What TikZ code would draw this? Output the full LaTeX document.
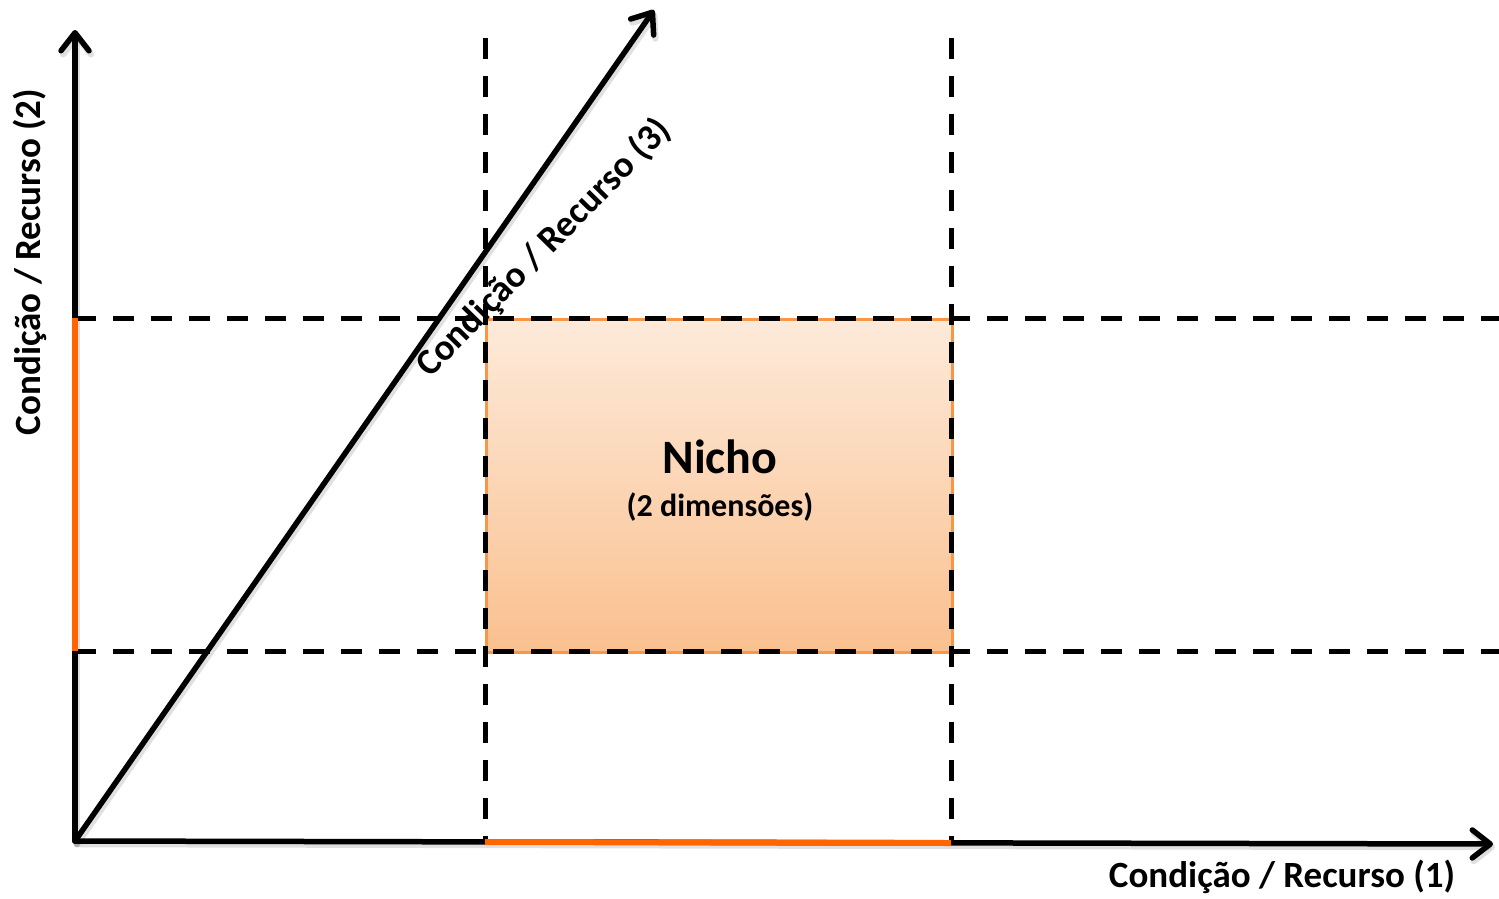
\documentclass[tikz,border=0pt]{standalone}
\usepackage{fontspec}
\setmainfont{Carlito}
\usetikzlibrary{arrows.meta}
\definecolor{boxtop}{HTML}{FDEADA}
\definecolor{boxbot}{HTML}{FAC08F}
\definecolor{boxline}{HTML}{F79646}
\definecolor{hl}{HTML}{FF6600}
\begin{document}
\begin{tikzpicture}[x=1pt,y=-1pt,
  axisline/.style={line width=5.5pt, line cap=round, line join=round,
    -{Straight Barb[length=18pt,width=28pt,line cap=round,line join=round]}},
  axisshadow/.style={axisline, draw=black, opacity=0.12, line width=6.5pt},
  guide/.style={line width=5pt, dash pattern=on 21pt off 17pt},
  highlight/.style={line width=6pt, draw=hl},
  lab/.style={font=\bfseries\fontsize{37}{42}\selectfont, inner sep=0pt},
  nichobox/.style={draw=boxline, line width=2.5pt, top color=boxtop, bottom color=boxbot,
    minimum width=466pt, minimum height=333pt, inner sep=0pt, anchor=north west}]
\useasboundingbox (0,0) rectangle (1499,898);
% coordinates
\coordinate (O) at (75,841);
\coordinate (Ytip) at (75,30);
\coordinate (Xtip) at (1493,844);
\coordinate (Ztip) at (654,10);
\coordinate (v1t) at (485,38);  \coordinate (v1b) at (485,842);
\coordinate (v2t) at (951,38);  \coordinate (v2b) at (951,843);
\coordinate (h1l) at (75,318);  \coordinate (h1r) at (1499,318);
\coordinate (h2l) at (75,651);  \coordinate (h2r) at (1499,651);
% niche box
\node[nichobox] (nicho) at (485,318) {};
% shadows
\draw[axisshadow] ([shift={(2,3)}]O) -- ([shift={(2,3)}]Ytip);
\draw[axisshadow] ([shift={(2,3)}]O) -- ([shift={(2,3)}]Xtip);
\draw[axisshadow] ([shift={(2,3)}]O) -- ([shift={(2,3)}]Ztip);
% guides
\draw[guide] (v1t) -- (v1b);
\draw[guide] (v2t) -- (v2b);
\draw[guide] (h1l) -- (h1r);
\draw[guide] (h2l) -- (h2r);
% axes
\draw[axisline] (O) -- (Ytip);
\draw[axisline] (O) -- (Xtip);
\draw[axisline] (O) -- (Ztip);
% highlighted ranges
\draw[highlight] (h1l) -- (h2l);
\draw[highlight] (v1b) -- (v2b);
% texts
\node[font=\bfseries\fontsize{48}{52}\selectfont, inner sep=0pt] (title) at (720,457) {Nicho};
\node[font=\bfseries\fontsize{32}{36}\selectfont, inner sep=0pt] (subtitle) at (720,507) {(2 dimensões)};
\node[lab] (lab1) at (1282,877) {Condição / Recurso (1)};
\node[lab, rotate=90] (lab2) at (30,262) {Condição / Recurso (2)};
\node[lab, rotate=45.5] (lab3) at (544,248) {Condição / Recurso (3)};
\end{tikzpicture}
\end{document}
